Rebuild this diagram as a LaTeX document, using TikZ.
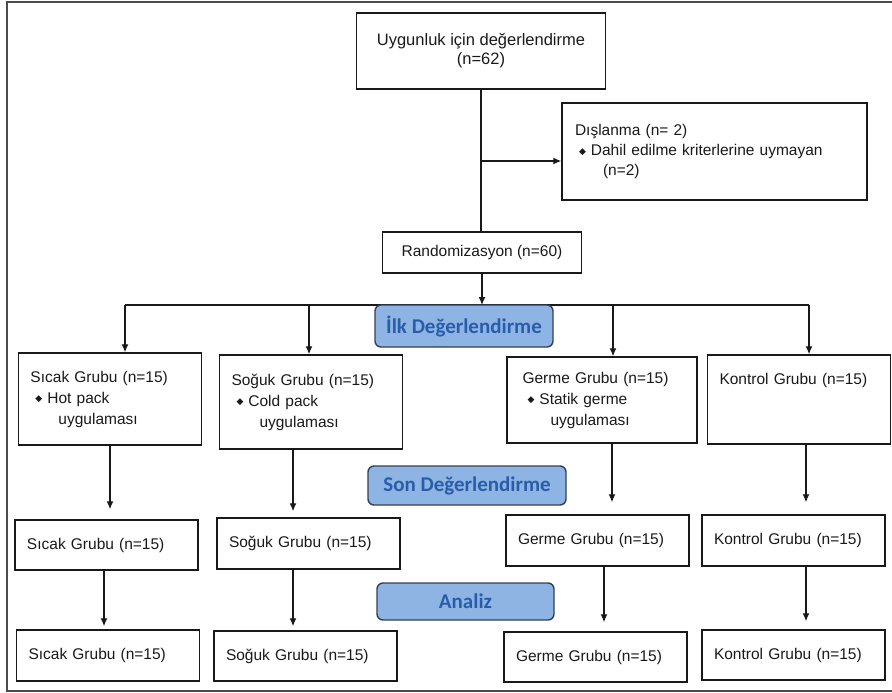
\documentclass[tikz,border=0pt]{standalone}
\usepackage{fontspec}
\setmainfont{Liberation Sans}
\newfontfamily\stagefont{Carlito}
\newfontfamily\symfont{DejaVu Sans}
\usetikzlibrary{arrows.meta}
\definecolor{stagefill}{RGB}{141,180,226}
\definecolor{stagetext}{RGB}{42,92,172}
\definecolor{stageline}{RGB}{52,64,84}
\definecolor{inkgray}{RGB}{25,25,25}
\tikzstyle{block} = [rectangle, draw=inkgray, line width=1.4pt, text=inkgray, align=left, text width=159pt, inner xsep=12pt, inner ysep=3pt, font=\fontsize{15.5}{21}\selectfont]
\tikzstyle{cblock} = [rectangle, draw=inkgray, line width=1.4pt, text=inkgray, align=center, font=\fontsize{15.5}{19}\selectfont]
\tikzstyle{stage} = [rectangle, rounded corners=6pt, draw=stageline, fill=stagefill, line width=1.4pt, text=stagetext, font=\stagefont\bfseries\fontsize{21}{21}\selectfont]
\tikzset{edge/.style = {
    line width=1.3pt, draw=inkgray,
    -{Latex[length=8pt, width=7pt]},
  },
  link/.style = {line width=1.3pt, draw=inkgray}
}
\newcommand{\dmd}{\raisebox{1.5pt}{\symfont\fontsize{9}{9}\selectfont ◆}}
\newcommand{\vlink}[4][0pt]{%
  \draw[edge, shorten >=#4] ([xshift=#1]#2.south) -- ([xshift=#1]#2.south |- #3.north);
}

\begin{document}
\begin{tikzpicture}[x=1pt, y=-1pt]
  \useasboundingbox (0,0) rectangle (892,693);
  \draw[line width=1.3pt, black!70] (892,2) -| (7,691) -- (892,691);

  % vertices
  \node[cblock, minimum width=249, minimum height=76, font=\fontsize{16.5}{19}\selectfont] (elig) at (481,51) {Uygunluk için değerlendirme\\(n=62)};
  \node[block, text width=279pt, inner xsep=13pt, minimum height=97, font=\fontsize{15.5}{20}\selectfont] (excl) at (714.5,151.5) {Dışlanma (n= 2)\\ \hspace*{4pt}\dmd\hspace{5pt}Dahil edilme kriterlerine uymayan\\ \hspace*{28pt}(n=2)};
  \node[cblock, minimum width=199, minimum height=41] (rand) at (482,252.5) {Randomizasyon (n=60)};

  \node[block, minimum height=92] (s1) at (110,399) {Sıcak Grubu (n=15)\\ \hspace*{5pt}\dmd\hspace{5pt}Hot pack\\ \hspace*{28pt}uygulaması};
  \node[block, minimum height=94] (c1) at (311,402) {Soğuk Grubu (n=15)\\ \hspace*{5pt}\dmd\hspace{5pt}Cold pack\\ \hspace*{28pt}uygulaması};
  \node[block, minimum height=86, minimum width=190] (g1) at (602,400) {Germe Grubu (n=15)\\ \hspace*{5pt}\dmd\hspace{5pt}Statik germe\\ \hspace*{28pt}uygulaması};
  \node[block, minimum height=89] (k1) at (799,399.5) {Kontrol Grubu (n=15)\\ \mbox{}\\ \mbox{}};

  \node[block, minimum height=50] (s2) at (106.5,545) {Sıcak Grubu (n=15)};
  \node[block, minimum height=51] (c2) at (308.5,543.5) {Soğuk Grubu (n=15)};
  \node[block, minimum height=51] (g2) at (597.5,540.5) {Germe Grubu (n=15)};
  \node[block, minimum height=51] (k2) at (793.5,540.5) {Kontrol Grubu (n=15)};

  \node[block, minimum height=51] (s3) at (108,655.5) {Sıcak Grubu (n=15)};
  \node[block, minimum height=50] (c3) at (305.5,656) {Soğuk Grubu (n=15)};
  \node[block, minimum height=50] (g3) at (595.5,657) {Germe Grubu (n=15)};
  \node[block, minimum height=50] (k3) at (793.5,655) {Kontrol Grubu (n=15)};

  % edges
  \draw[link] (elig.south) -- (elig.south |- rand.north);
  \coordinate (split) at (481,161);
  \draw[edge] (split) -- (split -| excl.west);
  \coordinate (bus) at (482,305);
  \draw[edge] (rand.south) -- (bus);
  \foreach \xx/\nn in {125/s1, 309/c1, 613/g1, 809/k1}{
    \coordinate (top-\nn) at (\xx,305);
    \draw[edge] (top-\nn) -- (top-\nn |- \nn.north);
  }
  \draw[link] (top-s1) -- (top-k1);

  \vlink{s1}{s2}{10pt}
  \vlink[-18pt]{c1}{c2}{6pt}
  \vlink[10pt]{g1}{g2}{12pt}
  \vlink[7pt]{k1}{k2}{12pt}
  \vlink[-2.5pt]{s2}{s3}{3pt}
  \vlink[-15.5pt]{c2}{c3}{4pt}
  \vlink[6.5pt]{g2}{g3}{9pt}
  \vlink[12.5pt]{k2}{k3}{8pt}

  % stage labels
  \node[stage, minimum width=178, minimum height=42] (first) at (464,326) {İlk Değerlendirme};
  \node[stage, minimum width=198, minimum height=39] (final) at (467,485.5) {Son Değerlendirme};
  \node[stage, minimum width=177, minimum height=37] (anlz) at (465.5,601.5) {Analiz};
\end{tikzpicture}
\end{document}
